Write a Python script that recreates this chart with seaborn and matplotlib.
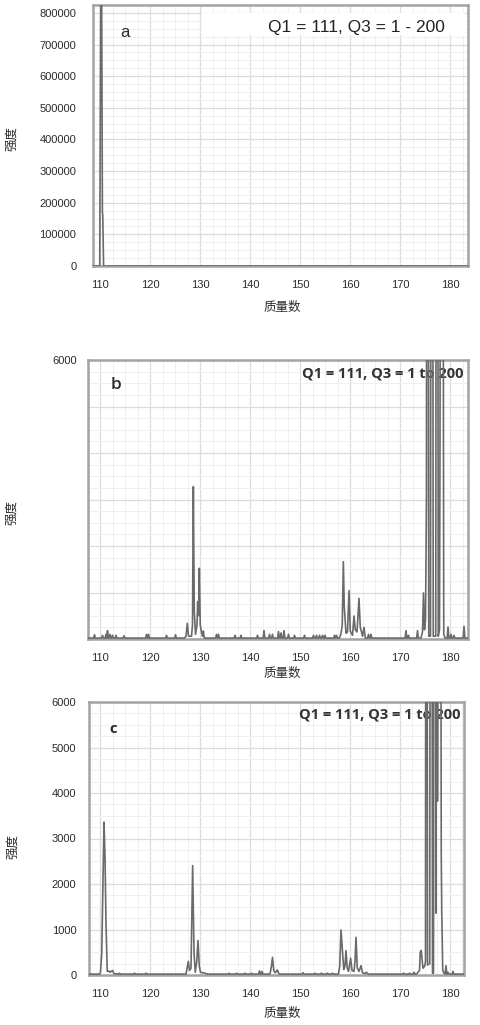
import numpy as np
import pandas as pd
import matplotlib
matplotlib.use("Agg")
import matplotlib.pyplot as plt
import seaborn as sns
from matplotlib.ticker import AutoMinorLocator, FixedLocator, FixedFormatter
from matplotlib.patches import Rectangle

# ---------------- data ----------------
x_ticks = [110, 120, 130, 140, 150, 160, 170, 180]
x_tick_labels = ["110", "120", "130", "140", "150", "160", "170", "180"]

a_y_ticks = [0, 100000, 200000, 300000, 400000, 500000, 600000, 700000, 800000]
a_y_labels = ["0", "100000", "200000", "300000", "400000", "500000", "600000", "700000", "800000"]
bc_y_ticks = [0, 1000, 2000, 3000, 4000, 5000, 6000]
b_y_labels = ["", "", "", "", "", "", "6000"]
c_y_labels = ["0", "1000", "2000", "3000", "4000", "5000", "6000"]

# panel a : profile points (m/z, intensity)
a_mz = [108.6, 109.95, 110.15, 110.32, 110.48, 110.55, 110.72, 183.6]
a_int = [0, 0, 900000, 900000, 170000, 160000, 0, 0]

# panel b : isolated small peaks
b_peak_mz = [108.9, 110.5, 111.2, 111.5, 112.0, 112.5, 113.2, 114.8, 119.3, 119.7,
             123.3, 125.1, 133.3, 133.7, 137.0, 138.2, 141.5, 142.8, 143.9, 144.5,
             145.7, 146.2, 146.8, 147.7, 148.9, 150.9, 152.7, 153.3, 153.9, 154.5,
             155.0, 156.9, 157.3, 163.7, 164.2, 171.2, 171.7, 173.5, 179.6, 180.2,
             180.8, 182.8]
b_peak_int = [90, 80, 100, 180, 100, 80, 80, 70, 100, 100,
              80, 90, 100, 100, 80, 80, 80, 180, 100, 100,
              160, 130, 180, 100, 80, 80, 80, 80, 80, 80,
              80, 80, 80, 100, 100, 180, 80, 180, 258, 100,
              80, 272]
# panel b : peak clusters (profile points)
b_cl1_mz = [126.9, 127.2, 127.47, 127.7, 128.3, 128.5, 128.67, 128.85, 129.1, 129.4,
            129.53, 129.7, 129.87, 130.05, 130.3, 130.5, 130.67, 130.85]
b_cl1_int = [20, 60, 337, 60, 60, 300, 3276, 600, 100, 300,
             802, 500, 1520, 300, 150, 60, 172, 20]
b_cl2_mz = [157.9, 158.2, 158.45, 158.67, 158.85, 159.2, 159.5, 159.8, 160.05, 160.5,
            160.8, 161.05, 161.4, 161.8, 162.05, 162.5, 162.8, 163.05]
b_cl2_int = [20, 120, 300, 1663, 700, 122, 150, 1039, 172, 80,
             495, 200, 150, 875, 258, 60, 251, 20]
b_cl3_mz = [174.2, 174.5, 174.7, 174.9, 175.1, 175.3, 175.5, 175.75, 176.1, 176.35,
            176.65, 177.15, 177.4, 177.65, 177.9, 178.0, 178.35, 178.75, 179.0]
b_cl3_int = [20, 150, 990, 200, 400, 3030, 30000, 60, 60, 30000,
             60, 60, 30000, 60, 200, 4170, 30000, 100, 20]

# panel c : isolated small peaks
c_peak_mz = [113.9, 116.9, 119.2, 135.8, 137.3, 139.0, 140.3, 141.9, 142.4, 150.6,
             153.0, 154.3, 155.5, 156.5, 170.7, 171.9, 172.8, 179.2, 179.6, 180.6]
c_peak_int = [40, 40, 40, 40, 40, 40, 40, 90, 80, 50,
              40, 40, 40, 40, 40, 40, 60, 206, 60, 80]
# panel c : peak clusters (profile points)
c_cl1_mz = [109.9, 110.1, 110.35, 110.55, 110.8, 111.0, 111.2, 111.45, 111.7, 112.0, 112.5, 112.8]
c_cl1_int = [20, 60, 480, 1800, 3360, 2600, 1140, 80, 90, 60, 100, 30]
c_cl2_mz = [127.2, 127.5, 127.67, 127.9, 128.2, 128.53, 128.8, 129.05, 129.35, 129.6,
            129.85, 130.1, 130.5, 131.0, 131.5]
c_cl2_int = [20, 200, 300, 100, 150, 2404, 500, 60, 300, 757,
             200, 60, 50, 40, 20]
c_cl3_mz = [144.0, 144.3, 144.5, 144.75, 145.0, 145.3, 145.5, 145.7, 146.0]
c_cl3_int = [20, 200, 389, 100, 50, 80, 110, 40, 20]
c_cl4_mz = [157.7, 157.95, 158.2, 158.45, 158.75, 159.0, 159.2, 159.45, 159.7, 160.13,
            160.4, 160.8, 161.0, 161.2, 161.45, 161.8, 162.2, 162.5, 163.0, 163.3, 163.6]
c_cl4_int = [20, 200, 989, 600, 120, 200, 535, 150, 80, 367,
             100, 80, 300, 828, 150, 80, 205, 50, 30, 60, 20]
c_cl5_mz = [173.4, 173.9, 174.05, 174.25, 174.45, 174.6, 174.95, 175.1, 175.27, 175.5,
            175.95, 176.2, 176.5, 176.7, 176.95, 177.2, 177.35, 177.55, 177.9, 178.25,
            178.35, 178.55, 178.8]
c_cl5_int = [30, 100, 500, 540, 300, 150, 200, 300, 30000, 220,
             250, 30000, 40, 40, 30000, 1360, 30000, 3820, 30000, 2640,
             1380, 100, 40]


def build_profile(x0, x1, base, peak_mz, peak_int, clusters, half_width=0.17):
    pts = [(x0, base), (x1, base)]
    for m, h in zip(peak_mz, peak_int):
        pts += [(m - half_width, base), (m, h), (m + half_width, base)]
    for cm, ci in clusters:
        pts += list(zip(cm, ci))
    df = pd.DataFrame(pts, columns=["mz", "intensity"]).sort_values("mz")
    return df.reset_index(drop=True)


# ---------------- style ----------------
sns.set_style("white")
plt.rcParams["font.family"] = ["Liberation Sans", "Noto Sans CJK SC", "DejaVu Sans"]

LINE = "#6a6a6a"
SPINE = "#a3a3a3"
TXT = "#2b2b2b"
CJK = ["Noto Sans CJK SC", "DejaVu Sans"]

fig = plt.figure(figsize=(4.81, 10.25), dpi=100)
W, H = 481.0, 1025.0


def make_ax(l, r, t, b):
    return fig.add_axes([l / W, 1 - b / H, (r - l) / W, (b - t) / H])


ax_a = make_ax(93, 468, 5, 266)
ax_b = make_ax(88, 468, 360, 639)
ax_c = make_ax(89, 464, 702, 975)

df_a = pd.DataFrame({"mz": a_mz, "intensity": a_int})
df_b = build_profile(107.6, 183.6, 20, b_peak_mz, b_peak_int,
                     [(b_cl1_mz, b_cl1_int), (b_cl2_mz, b_cl2_int), (b_cl3_mz, b_cl3_int)])
df_c = build_profile(107.8, 182.8, 20, c_peak_mz, c_peak_int,
                     [(c_cl1_mz, c_cl1_int), (c_cl2_mz, c_cl2_int), (c_cl3_mz, c_cl3_int),
                      (c_cl4_mz, c_cl4_int), (c_cl5_mz, c_cl5_int)])

panels = [
    (ax_a, df_a, (108.6, 183.6), (0, 825000), a_y_ticks, a_y_labels),
    (ax_b, df_b, (107.6, 183.6), (0, 6000), bc_y_ticks, b_y_labels),
    (ax_c, df_c, (107.8, 182.8), (0, 6000), bc_y_ticks, c_y_labels),
]

for ax, df, xl, yl, yt, ylab in panels:
    sns.lineplot(data=df, x="mz", y="intensity", ax=ax, color=LINE, lw=1.2,
                 estimator=None, sort=True, zorder=3)
    ax.set_xlim(*xl)
    ax.set_ylim(*yl)
    ax.xaxis.set_major_locator(FixedLocator(x_ticks))
    ax.xaxis.set_major_formatter(FixedFormatter(x_tick_labels))
    ax.xaxis.set_minor_locator(AutoMinorLocator(4))
    ax.yaxis.set_major_locator(FixedLocator(yt))
    ax.yaxis.set_major_formatter(FixedFormatter(ylab))
    ax.yaxis.set_minor_locator(AutoMinorLocator(4))
    ax.grid(which="major", color="#dcdcdc", lw=0.9, zorder=0)
    ax.grid(which="minor", color="#efefef", lw=0.7, zorder=0)
    ax.set_axisbelow(True)
    ax.tick_params(axis="both", which="both", length=0, labelsize=8, colors=TXT)
    ax.tick_params(axis="x", pad=10)
    for s in ax.spines.values():
        s.set_visible(True)
        s.set_color(SPINE)
        s.set_linewidth(1.8)
    ax.set_xlabel("质量数", fontsize=9, family=CJK, color=TXT, va="center")
    ax.set_ylabel("强度", fontsize=9, family=CJK, color=TXT, va="center")

ax_a.tick_params(axis="y", pad=12)
ax_b.tick_params(axis="y", pad=8)
ax_c.tick_params(axis="y", pad=9)

# label positions (axes fractions)
ax_a.xaxis.set_label_coords(0.504, -0.157)
ax_b.xaxis.set_label_coords(0.511, -0.122)
ax_c.xaxis.set_label_coords(0.515, -0.139)
ax_a.yaxis.set_label_coords(-0.216, 0.49)
ax_b.yaxis.set_label_coords(-0.200, 0.455)
ax_c.yaxis.set_label_coords(-0.205, 0.469)

# panel letters
ax_a.text(0.085, 0.893, "a", transform=ax_a.transAxes, fontsize=12, color=TXT,
          ha="center", va="center", zorder=5)
ax_b.text(0.074, 0.91, "b", transform=ax_b.transAxes, fontsize=12.5, color=TXT,
          family="Open Sans", fontweight="semibold", ha="center", va="center", zorder=5)
ax_c.text(0.064, 0.90, "c", transform=ax_c.transAxes, fontsize=10.5, color=TXT,
          family="Open Sans", fontweight="bold", ha="center", va="center", zorder=5)

# condition annotations
ax_a.add_patch(Rectangle((0.291, 0.885), 0.70, 0.084, transform=ax_a.transAxes,
                         facecolor="white", edgecolor="none", zorder=4))
ax_a.text(0.939, 0.912, "Q1 = 111, Q3 = 1 - 200", transform=ax_a.transAxes,
          fontsize=12.5, color="#222222", ha="right", va="center", zorder=5)
ax_b.text(0.989, 0.95, "Q1 = 111, Q3 = 1 to 200", transform=ax_b.transAxes,
          fontsize=10.5, color="#333333", family="Open Sans", fontweight="bold",
          ha="right", va="center", zorder=2)
ax_c.text(0.992, 0.956, "Q1 = 111, Q3 = 1 to 200", transform=ax_c.transAxes,
          fontsize=10.5, color="#333333", family="Open Sans", fontweight="bold",
          ha="right", va="center", zorder=2)

fig.savefig("out.png", dpi=100)
